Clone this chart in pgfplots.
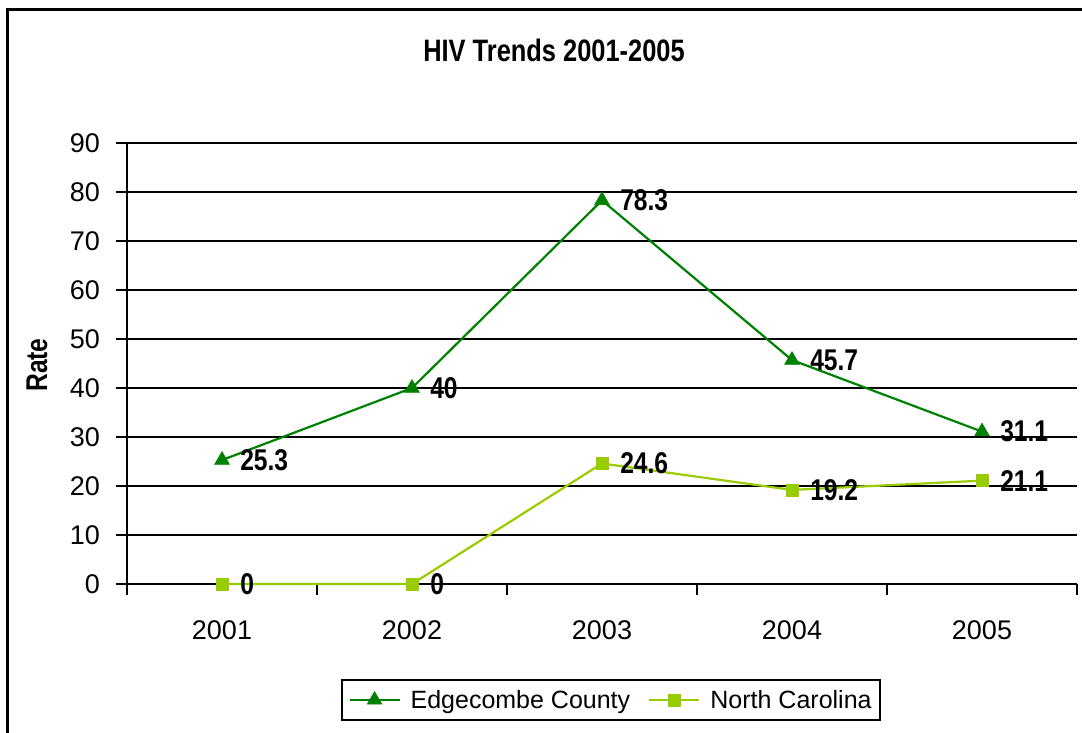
\documentclass[border=0pt]{standalone}
\usepackage{fontspec}
\setmainfont{Liberation Sans}
\newfontfamily\narrowfont[FakeStretch=0.82]{Liberation Sans}
\usepackage{pgfplots}
\pgfplotsset{compat=1.18}
\definecolor{edg}{RGB}{0,128,0}
\definecolor{nc}{RGB}{153,204,0}
\begin{document}
\begin{tikzpicture}
\begin{axis}[
  scale only axis, width=950pt, height=441pt,
  xmin=0.5, xmax=5.5, ymin=0, ymax=90,
  clip=false,
  axis x line=bottom, axis y line=left,
  axis line style={-, line width=2pt, black},
  xtick={0.5,1.5,2.5,3.5,4.5,5.5}, xticklabels={},
  extra x ticks={1,2,3,4,5},
  extra x tick labels={2001,2002,2003,2004,2005},
  extra x tick style={major tick length=0pt, tick label style={inner sep=0pt, yshift=-36pt}},
  ytick={0,10,...,90},
  yticklabel style={inner sep=0pt, xshift=-16pt},
  ymajorgrids, grid style={black, line width=2pt},
  tick style={black, line width=2pt}, major tick length=11pt, tick align=outside,
  tick label style={font=\fontsize{27}{30}\selectfont},
  /pgf/number format/assume math mode=true,
  nodes near coords,
  every node near coord/.append style={font=\narrowfont\bfseries\fontsize{30}{32}\selectfont, text=black, anchor=west, inner sep=0pt, xshift=18pt, yshift=0pt},
  legend columns=2,
  legend style={at={(0.5095,-0.263)}, anchor=center, draw=black, line width=2pt,
    font=\fontsize{25}{28}\selectfont, inner xsep=6pt, inner ysep=8pt,
    /tikz/every odd column/.append style={column sep=8pt},
    /tikz/every even column/.append style={column sep=16pt}},
  legend image code/.code={\draw[mark repeat=2, mark phase=2] plot coordinates {(0pt,0pt) (25pt,0pt) (50pt,0pt)};},
]
\addplot[color=edg, line width=2.2pt, mark=triangle*, mark size=8.5pt, mark options={fill=edg, draw=edg, line width=0.5pt}]
  coordinates {(1,25.3) (2,40) (3,78.3) (4,45.7) (5,31.1)};
\addlegendentry{Edgecombe County}
\addplot[color=nc, line width=2.2pt, mark=square*, mark size=6pt, mark options={fill=nc, draw=nc, line width=0.5pt}]
  coordinates {(1,0) (2,0) (3,24.6) (4,19.2) (5,21.1)};
\addlegendentry{North Carolina}
\end{axis}
\begin{scope}[shift={(-127pt,584pt)}, x=1pt, y=-1pt]
  \node[font=\narrowfont\bfseries\fontsize{31}{34}\selectfont] at (554,50) {HIV Trends 2001-2005};
  \node[font=\narrowfont\bfseries\fontsize{30}{32}\selectfont, rotate=90] at (37,365) {Rate};
  \draw[line width=3pt] (8,10) rectangle (1100,750);
  \pgfresetboundingbox
  \path[use as bounding box] (0,0) rectangle (1082,732);
\end{scope}
\end{tikzpicture}
\end{document}
